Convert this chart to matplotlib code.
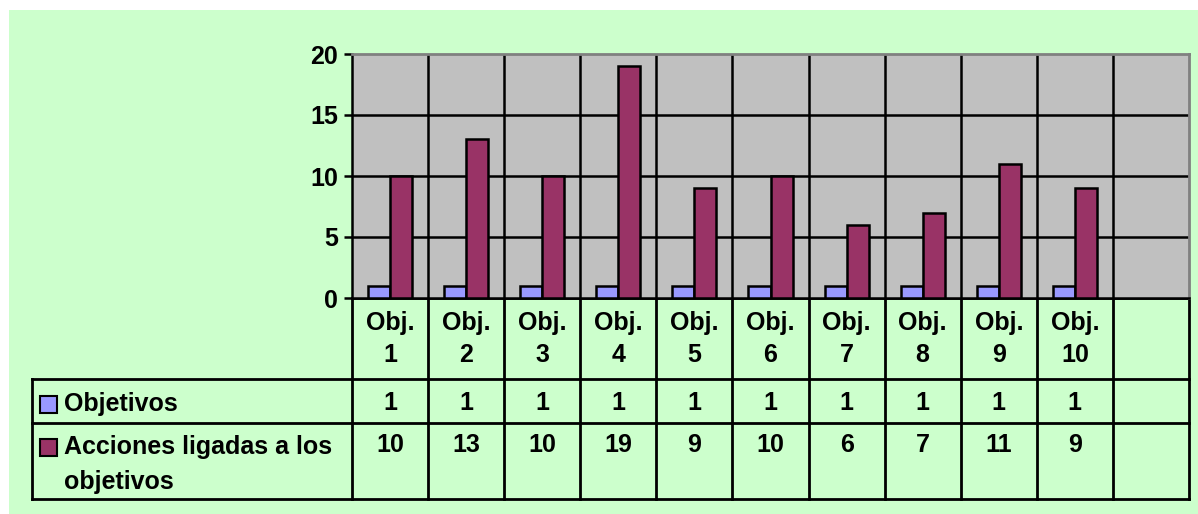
import matplotlib.pyplot as plt
import matplotlib.patches as mpatches
import numpy as np

categorias = ["Obj.\n1", "Obj.\n2", "Obj.\n3", "Obj.\n4", "Obj.\n5",
              "Obj.\n6", "Obj.\n7", "Obj.\n8", "Obj.\n9", "Obj.\n10", ""]
objetivos = [1, 1, 1, 1, 1, 1, 1, 1, 1, 1]
acciones = [10, 13, 10, 19, 9, 10, 6, 7, 11, 9]
series_names = ["Objetivos", "Acciones ligadas a los\nobjetivos"]
yticks = [0, 5, 10, 15, 20]

c_obj = "#9999FF"
c_acc = "#993366"
verde = "#CCFFCC"
W, H = 1198, 514
fs = 18

plt.rcParams['font.family'] = ['Liberation Sans', 'DejaVu Sans']
plt.rcParams['font.weight'] = 'bold'

fig = plt.figure(figsize=(W / 100, H / 100), dpi=100)
fig.patch.set_facecolor("white")

# overlay in pixel coords for the table and the green background
ov = fig.add_axes([0, 0, 1, 1], zorder=0)
ov.set_xlim(0, W)
ov.set_ylim(H, 0)
ov.axis('off')
ov.add_patch(mpatches.Rectangle((9, 10), W - 9, H - 10, color=verde, lw=0))

# plot area
L, R, T, B = 352, 1189, 54, 298
ax = fig.add_axes([L / W, 1 - B / H, (R - L) / W, (B - T) / H], zorder=2)
ax.set_facecolor("#C0C0C0")
n = len(categorias)
x = np.arange(len(objetivos))
bw = 0.29
ax.bar(x - bw / 2, objetivos, bw, color=c_obj, edgecolor="black", lw=1.8, zorder=3)
ax.bar(x + bw / 2, acciones, bw, color=c_acc, edgecolor="black", lw=1.8, zorder=3)
ax.set_xlim(-0.5, n - 0.5)
ax.set_ylim(0, 20)
ax.set_yticks(yticks)
ax.set_yticklabels([str(v) for v in yticks], fontsize=fs, fontweight='bold')
ax.tick_params(axis='y', length=6, width=1.8, pad=4)
ax.set_xticks([])
for v in yticks[1:-1]:
    ax.axhline(v, color="black", lw=1.8, zorder=1)
for k in range(1, n):
    ax.axvline(k - 0.5, color="black", lw=1.8, zorder=1)
ax.spines['top'].set_color("#808080")
ax.spines['right'].set_color("#808080")
ax.spines['top'].set_linewidth(2)
ax.spines['right'].set_linewidth(2)
ax.spines['left'].set_linewidth(1.8)
ax.spines['bottom'].set_linewidth(1.8)

# data table
colw = (R - L) / n
rows = [B, 379, 423, 499]
tl = 32
lk = dict(color="black", lw=2, solid_capstyle='projecting')
for k in range(n + 1):
    ov.plot([L + k * colw] * 2, [rows[0], rows[3]], **lk)
ov.plot([L, R], [rows[0], rows[0]], **lk)
for yy in rows[1:]:
    ov.plot([tl, R], [yy, yy], **lk)
ov.plot([tl, tl], [rows[1], rows[3]], **lk)

for k, cat in enumerate(categorias):
    cx = L + (k + 0.5) * colw
    lines = cat.split("\n")
    for j, t in enumerate(lines):
        ov.text(cx, 323 + j * 32, t, ha='center', va='center', fontsize=fs, fontweight='bold')

for k, v in enumerate(objetivos):
    ov.text(L + (k + 0.5) * colw, 403, str(v), ha='center', va='center', fontsize=fs, fontweight='bold')
for k, v in enumerate(acciones):
    ov.text(L + (k + 0.5) * colw, 445, str(v), ha='center', va='center', fontsize=fs, fontweight='bold')

# row headers with legend keys
for yk, col, name in [(404, c_obj, series_names[0]), (447, c_acc, series_names[1])]:
    ov.add_patch(mpatches.Rectangle((40, yk - 8.5), 17, 17, facecolor=col, edgecolor="black", lw=1.5))
    for j, t in enumerate(name.split("\n")):
        ov.text(64, yk + j * 35, t, ha='left', va='center', fontsize=fs, fontweight='bold')

fig.savefig("out.png", dpi=100, facecolor=fig.get_facecolor())
